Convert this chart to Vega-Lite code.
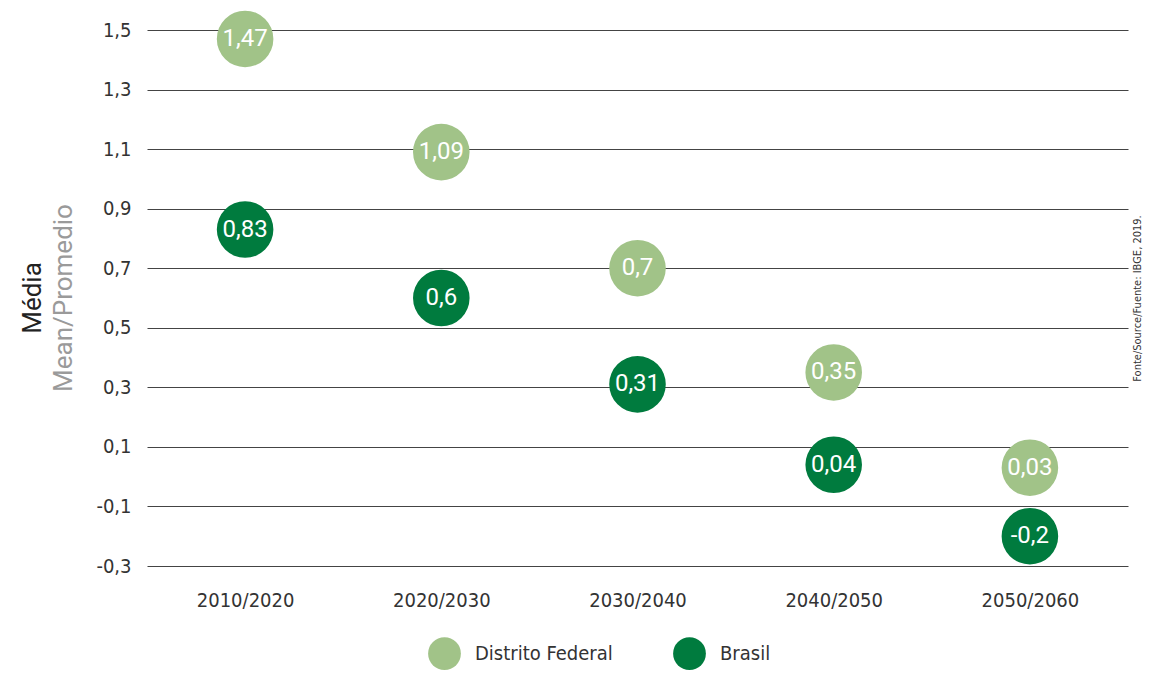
{
  "$schema": "https://vega.github.io/schema/vega-lite/v6.json",
  "width": 981,
  "height": 536,
  "autosize": "none",
  "padding": {"left": 147, "top": 30, "right": 26, "bottom": 109},
  "background": "white",
  "config": {
    "view": {"stroke": null},
    "locale": {"number": {"decimal": ",", "thousands": ".", "grouping": [3], "currency": ["", ""], "minus": "-"}}
  },
  "title": {
    "text": "Média",
    "subtitle": "Mean/Promedio",
    "orient": "left",
    "anchor": "middle",
    "font": "Roboto",
    "fontSize": 26,
    "fontWeight": "normal",
    "color": "#222222",
    "subtitleFont": "Roboto",
    "subtitleFontSize": 26,
    "subtitleColor": "#9a9a9a",
    "subtitlePadding": 5,
    "offset": 19
  },
  "data": {
    "values": [
      {"period": "2010/2020", "series": "Distrito Federal", "value": 1.47, "label": "1,47"},
      {"period": "2020/2030", "series": "Distrito Federal", "value": 1.09, "label": "1,09"},
      {"period": "2030/2040", "series": "Distrito Federal", "value": 0.7, "label": "0,7"},
      {"period": "2040/2050", "series": "Distrito Federal", "value": 0.35, "label": "0,35"},
      {"period": "2050/2060", "series": "Distrito Federal", "value": 0.03, "label": "0,03"},
      {"period": "2010/2020", "series": "Brasil", "value": 0.83, "label": "0,83"},
      {"period": "2020/2030", "series": "Brasil", "value": 0.6, "label": "0,6"},
      {"period": "2030/2040", "series": "Brasil", "value": 0.31, "label": "0,31"},
      {"period": "2040/2050", "series": "Brasil", "value": 0.04, "label": "0,04"},
      {"period": "2050/2060", "series": "Brasil", "value": -0.2, "label": "-0,2"}
    ]
  },
  "layer": [
    {
      "mark": {"type": "circle", "opacity": 1, "size": 3200},
      "encoding": {
        "x": {
          "field": "period", "type": "ordinal", "sort": null,
          "scale": {"type": "point", "padding": 0.5},
          "axis": {"title": null, "domain": false, "ticks": false, "grid": false, "labelAngle": 0,
                   "labelFont": "DejaVu Sans Condensed", "labelFontSize": 20, "labelColor": "#333333", "labelPadding": 24}
        },
        "y": {
          "field": "value", "type": "quantitative",
          "scale": {"domain": [-0.3, 1.5], "nice": false, "zero": false},
          "axis": {"title": null, "values": [-0.3, -0.1, 0.1, 0.3, 0.5, 0.7, 0.9, 1.1, 1.3, 1.5], "format": ".1f",
                   "domain": false, "ticks": false, "grid": true, "gridColor": "#444444", "gridWidth": 1,
                   "labelFont": "DejaVu Sans Condensed", "labelFontSize": 20, "labelColor": "#333333", "labelPadding": 16}
        },
        "color": {
          "field": "series", "type": "nominal",
          "scale": {"domain": ["Distrito Federal", "Brasil"], "range": ["#a1c388", "#007b3e"]},
          "legend": {"orient": "none", "legendX": 281, "legendY": 607, "direction": "horizontal", "title": null,
                     "symbolType": "circle", "symbolSize": 1075, "symbolStrokeWidth": 0, "symbolOpacity": 1,
                     "labelFont": "DejaVu Sans Condensed", "labelFontSize": 20, "labelColor": "#333333",
                     "labelOffset": 14, "columnPadding": 60}
        }
      }
    },
    {
      "mark": {"type": "text", "color": "white", "font": "Roboto", "fontSize": 24, "baseline": "middle", "align": "center"},
      "encoding": {
        "x": {"field": "period", "type": "ordinal", "sort": null},
        "y": {
          "field": "value", "type": "quantitative",
          "axis": {"orient": "right", "title": "Fonte/Source/Fuente: IBGE, 2019.", "titleFont": "DejaVu Sans Condensed",
                   "titleFontSize": 11, "titleFontWeight": "normal", "titleColor": "#333333", "titleAngle": -90,
                   "titlePadding": 14, "labels": false, "ticks": false, "domain": false, "grid": false}
        },
        "text": {"field": "label", "type": "nominal"}
      }
    }
  ],
  "resolve": {"axis": {"y": "independent"}}
}
